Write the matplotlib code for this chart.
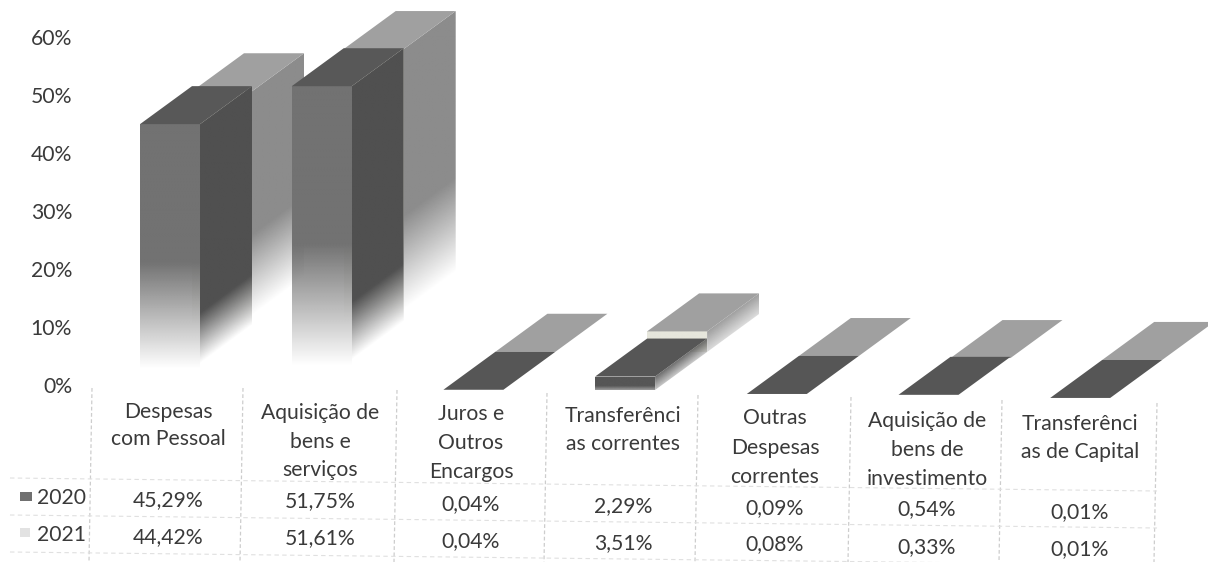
#despesas chart, 3d bars with fade and data table below
import numpy as np
import matplotlib
matplotlib.use("Agg")
import matplotlib.pyplot as plt
from matplotlib.patches import Polygon, Rectangle

categories = ["Despesas\ncom Pessoal", "Aquisição de\nbens e\nserviços", "Juros e\nOutros\nEncargos",
              "Transferênci\nas correntes", "Outras\nDespesas\ncorrentes",
              "Aquisição de\nbens de\ninvestimento", "Transferênci\nas de Capital"]
series_names = ["2020", "2021"]
v2020 = [45.29, 51.75, 0.04, 2.29, 0.09, 0.54, 0.01]
v2021 = [44.42, 51.61, 0.04, 3.51, 0.08, 0.33, 0.01]
yticks = [0, 10, 20, 30, 40, 50, 60]

W, H = 1208, 562
FONT = "Lato"
FS = 15.2
TXT = "#3a3a3a"

# layout in pixels
X0 = 140.0      # left edge of first bar
STEP = 151.7    # distance between categories
BASE = 390.0    # pixel row of value 0
PXV = 5.87      # pixels per percent
BW = 60.0 / STEP
DX = 52.0 / STEP
DY = 38.0 / PXV
# the scan runs downhill to the right, the last bars sit lower
skew_px = [0, 0, 0, 0, 4.5, 8, 8]

fig = plt.figure(figsize=(W / 100, H / 100), dpi=100)

ax = fig.add_axes([0, 0, 1, 1])
ax.set_xlim(-X0 / STEP, (W - X0) / STEP)
ax.set_ylim((BASE - H) / PXV, BASE / PXV)
ax.axis("off")

# pixel overlay for table and labels
px = fig.add_axes([0, 0, 1, 1], facecolor="none")
px.set_xlim(0, W)
px.set_ylim(H, 0)
px.axis("off")


def face(xs, ys, color, lo, hi, val, zo, shear=0.0):
    # face with alpha going to 0 at the bottom, lo/hi are fractions of the bar height
    poly = Polygon(np.column_stack((xs, ys)), closed=True, transform=ax.transData, fc="none", ec="none")
    ax.add_patch(poly)
    x0, x1 = min(xs), max(xs)
    y0, y1 = min(ys), max(ys)
    gx, gy = np.meshgrid(np.linspace(x0, x1, 80), np.linspace(y0, y1, 300))
    h = gy - y0 - shear * (gx - x0)
    a = np.clip((h / max(val, 1e-6) - lo) / (hi - lo), 0, 1)
    rgba = np.zeros(a.shape + (4,))
    rgba[..., :3] = matplotlib.colors.to_rgb(color)
    rgba[..., 3] = a
    im = ax.imshow(rgba, extent=(x0, x1, y0, y1), origin="lower", aspect="auto", zorder=zo, interpolation="bilinear")
    im.set_clip_path(poly)


def bar3d(x, base, val, front, side, top, zo, front_fade, side_fade):
    y1 = base + val
    if val > 1:
        # small bars only get a soft side
        if val > 10:
            flo, fhi = front_fade
            slo, shi = side_fade
        else:
            flo, fhi = -0.4, 0.3
            slo, shi = -0.6, 1.3
            front = top if top == "#565656" else front
        face([x, x + BW, x + BW, x], [base, base, y1, y1], front, flo, fhi, val, zo + 1)
        face([x + BW, x + BW + DX, x + BW + DX, x + BW],
             [base, base + DY, y1 + DY, y1], side, slo, shi, val, zo, shear=DY / DX)
    ax.add_patch(Polygon([(x, y1), (x + BW, y1), (x + BW + DX, y1 + DY), (x + DX, y1 + DY)],
                         closed=True, fc=top, ec="none", zorder=zo + 2))


for i in range(len(categories)):
    zo = 2 + i * 10
    low = -skew_px[i] / PXV
    # back series first
    bar3d(i + DX, DY + low, v2021[i], "#e6e6dc", "#8c8c8c", "#a0a0a0", zo, (0.1, 0.45), (0.14, 0.45))
    bar3d(i, low, v2020[i], "#727272", "#505050", "#585858" if v2020[i] > 10 else "#565656", zo + 4,
          (0.08, 0.48), (0.1, 0.29))

# y labels sit a bit off the bar scale in the picture
for t in yticks:
    px.text(72, 387 - t * 5.8, "%d%%" % t, ha="right", va="center", fontsize=FS, family=FONT, color=TXT)

# table grid
grid_x = [92, 243, 397, 547, 698, 851, 1002, 1157]
grid_top = [388, 388, 390, 393, 395, 397, 400, 403]
for gx, gt in zip(grid_x, grid_top):
    px.plot([gx, gx - 3], [gt, 562], color="#cdcdcd", lw=0.9, ls=(0, (3, 2)))
for gy in [478, 515, 552]:
    px.plot([10, 1157], [gy, gy + 13], color="#e0e0e0", lw=0.8, ls=(0, (4, 3)))

# category text, one row per line
cx = [168, 320, 471, 623, 775, 927, 1080]
line_y = [[411, 438], [412, 441, 469], [413, 442, 471], [415, 443], [417, 447, 476], [420, 449, 478], [423, 451]]
row1_y = [499, 500, 503, 505, 507, 508, 511]
row2_y = [536, 537, 540, 542, 543, 546, 548]
for i, c in enumerate(categories):
    for s, y in zip(c.split("\n"), line_y[i]):
        px.text(cx[i], y + 1, s, ha="center", va="center", fontsize=FS, family=FONT, color=TXT)
    px.text(cx[i], row1_y[i] + 1, ("%.2f%%" % v2020[i]).replace(".", ","), ha="center", va="center",
            fontsize=FS, family=FONT, color=TXT)
    px.text(cx[i], row2_y[i] + 1, ("%.2f%%" % v2021[i]).replace(".", ","), ha="center", va="center",
            fontsize=FS, family=FONT, color=TXT)

# legend keys
px.add_patch(Rectangle((20, 492), 12, 9, fc="#707070", ec="none"))
px.add_patch(Rectangle((20, 528), 10, 9, fc="#e2e2e2", ec="none"))
px.text(62, 498, series_names[0], ha="center", va="center", fontsize=FS, family=FONT, color=TXT)
px.text(62, 535, series_names[1], ha="center", va="center", fontsize=FS, family=FONT, color=TXT)

fig.savefig("out.png", dpi=100, facecolor="white")
